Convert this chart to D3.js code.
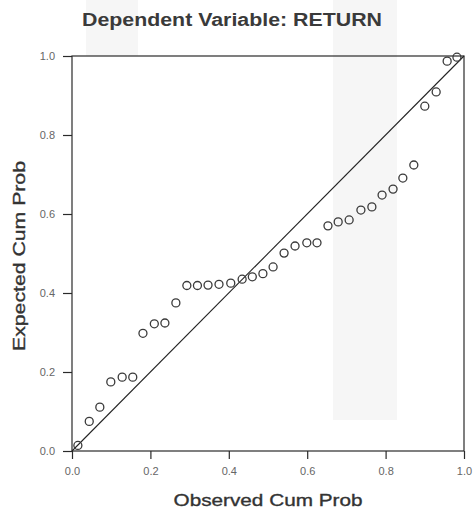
<!DOCTYPE html>
<html>
<head>
<meta charset="utf-8">
<script src="https://cdn.jsdelivr.net/npm/d3@7"></script>
<style>
  html, body { margin: 0; padding: 0; background: #fff; }
  svg { display: block; }
  text { font-family: "Liberation Sans", Arial, sans-serif; }
</style>
</head>
<body>
<svg id="chart" width="476" height="512"></svg>
<script>
// Normal P-P plot of regression standardized residuals
const chartTitle = "Dependent Variable: RETURN";
const xTitle = "Observed Cum Prob";
const yTitle = "Expected Cum Prob";

const observedCumProb = [
  0.015, 0.044, 0.071, 0.099, 0.128, 0.155, 0.181, 0.210, 0.237, 0.265,
  0.293, 0.320, 0.347, 0.375, 0.405, 0.434, 0.460, 0.487, 0.513, 0.541,
  0.569, 0.599, 0.625, 0.653, 0.679, 0.707, 0.737, 0.765, 0.791, 0.819,
  0.844, 0.872, 0.900, 0.929, 0.957, 0.982
];
const expectedCumProb = [
  0.014, 0.075, 0.111, 0.175, 0.187, 0.187, 0.298, 0.322, 0.324, 0.375,
  0.419, 0.419, 0.420, 0.422, 0.425, 0.435, 0.441, 0.449, 0.466, 0.501,
  0.519, 0.527, 0.527, 0.570, 0.580, 0.585, 0.610, 0.618, 0.648, 0.663,
  0.691, 0.724, 0.873, 0.909, 0.987, 0.997
];
const xTickValues = [0, 0.2, 0.4, 0.6, 0.8, 1.0];
const yTickValues = [0, 0.2, 0.4, 0.6, 0.8, 1.0];

const svg = d3.select("#chart");
const W = 476, H = 512;
const margin = { left: 72, right: 12, top: 56, bottom: 61 };

svg.append("rect").attr("width", W).attr("height", H).attr("fill", "#fff");

// faint background emblem
const wm = svg.append("g").attr("fill", "#f6f6f6");
wm.append("rect").attr("x", 333).attr("y", 0).attr("width", 64).attr("height", 420);
wm.append("rect").attr("x", 86).attr("y", 0).attr("width", 52).attr("height", 56);

const x = d3.scaleLinear().domain([0, 1]).range([margin.left, W - margin.right]);
const y = d3.scaleLinear().domain([0, 1]).range([H - margin.bottom, margin.top]);

const fmt = d3.format(".1f");
const lineColor = "#2a2a2a";

// axes
const gx = svg.append("g")
  .attr("transform", `translate(0,${y(0)})`)
  .call(d3.axisBottom(x).tickValues(xTickValues).tickFormat(fmt).tickSize(8).tickSizeOuter(0).tickPadding(8));
const gy = svg.append("g")
  .attr("transform", `translate(${x(0)},0)`)
  .call(d3.axisLeft(y).tickValues(yTickValues).tickFormat(fmt).tickSize(9).tickSizeOuter(0).tickPadding(8));

[gx, gy].forEach(g => {
  g.select(".domain").remove();
  g.selectAll(".tick line").attr("stroke", lineColor).attr("stroke-width", 1.2);
  g.selectAll(".tick text")
    .attr("fill", "#666")
    .style("font-size", "11px")
    .style("font-family", "'Liberation Sans', Arial, sans-serif");
});

// plot frame
svg.append("rect")
  .attr("x", x(0)).attr("y", y(1))
  .attr("width", x(1) - x(0)).attr("height", y(0) - y(1))
  .attr("fill", "none").attr("stroke", lineColor).attr("stroke-width", 1.2);

// reference diagonal
svg.append("line")
  .attr("x1", x(0)).attr("y1", y(0))
  .attr("x2", x(1)).attr("y2", y(1))
  .attr("stroke", "#222").attr("stroke-width", 1.1);

// points
svg.append("g")
  .selectAll("circle")
  .data(observedCumProb.map((v, i) => [v, expectedCumProb[i]]))
  .join("circle")
  .attr("cx", d => x(d[0]))
  .attr("cy", d => y(d[1]))
  .attr("r", 4)
  .attr("fill", "none")
  .attr("stroke", "#3a3a3a")
  .attr("stroke-width", 1.3);

// titles
svg.append("text")
  .attr("x", 232).attr("y", 26)
  .attr("text-anchor", "middle")
  .attr("textLength", 300).attr("lengthAdjust", "spacingAndGlyphs")
  .style("font-size", "18px").style("font-weight", "bold")
  .attr("fill", "#3a3a3a")
  .text(chartTitle);

svg.append("text")
  .attr("x", 268).attr("y", 506)
  .attr("text-anchor", "middle")
  .attr("textLength", 189).attr("lengthAdjust", "spacingAndGlyphs")
  .style("font-size", "17px")
  .attr("fill", "#333").attr("stroke", "#333").attr("stroke-width", 0.35)
  .text(xTitle);

svg.append("text")
  .attr("transform", "translate(25,256) rotate(-90)")
  .attr("text-anchor", "middle")
  .attr("textLength", 190).attr("lengthAdjust", "spacingAndGlyphs")
  .style("font-size", "17px")
  .attr("fill", "#333").attr("stroke", "#333").attr("stroke-width", 0.35)
  .text(yTitle);
</script>
</body>
</html>
